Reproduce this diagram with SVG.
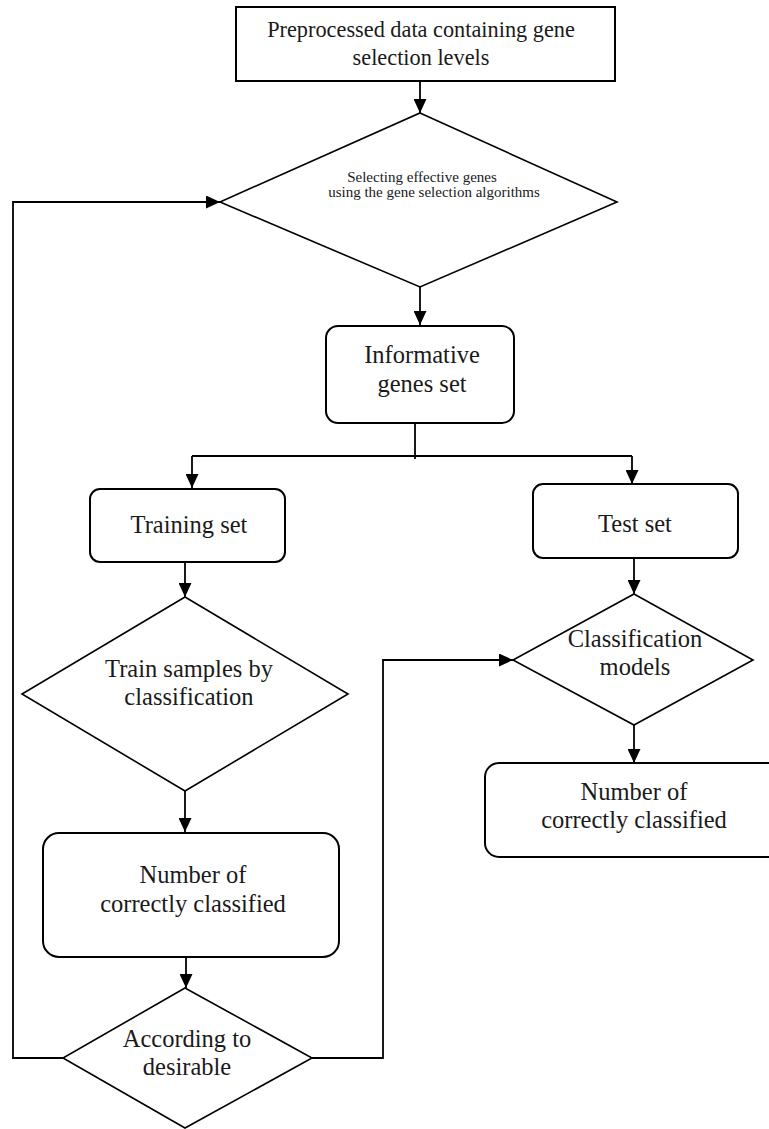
<svg xmlns="http://www.w3.org/2000/svg" width="769" height="1129" viewBox="0 0 769 1129">
<defs>
<marker id="ah" markerUnits="userSpaceOnUse" markerWidth="14" markerHeight="13" refX="14" refY="6.5" orient="auto">
<path d="M0,0 L14,6.5 L0,13 z" fill="#000"/>
</marker>
<style>
.box{fill:#fff;stroke:#000;stroke-width:2}
.dia{fill:#fff;stroke:#000;stroke-width:1.6}
.c{fill:none;stroke:#000;stroke-width:1.8}
.a{marker-end:url(#ah)}
text{font-family:"Liberation Serif","Times New Roman",serif;fill:#1a1a1a;text-anchor:middle}
.t{font-size:24.5px}
.h{font-size:22.3px}
.s{font-size:15px}
</style>
</defs>
<rect width="769" height="1129" fill="#fff"/>
<g id="connectors">
<path class="c a" d="M420,81 V113"/>
<path class="c a" d="M420,287 V325"/>
<path class="c" d="M415,423 V459"/>
<path class="c" d="M192,456 H632"/>
<path class="c a" d="M192,456 V488"/>
<path class="c a" d="M632,456 V484"/>
<path class="c a" d="M185,563 V597"/>
<path class="c a" d="M185,791 V832"/>
<path class="c a" d="M186,957 V988"/>
<path class="c a" d="M63,1058 H13 V202 H220"/>
<path class="c a" d="M312,1058 H383 V660 H513"/>
<path class="c a" d="M634,558 V594"/>
<path class="c a" d="M634,725 V763"/>
</g>
<g id="n1">
<rect class="box" x="236" y="7" width="379" height="74"/>
<text class="h" x="421" y="37">Preprocessed data containing gene</text>
<text class="h" x="421" y="65">selection levels</text>
</g>
<g id="n2">
<polygon class="dia" points="420,113 617,202 420,287 220,202"/>
<text class="s" x="422" y="182">Selecting effective genes</text>
<text class="s" x="434" y="197">using the gene selection algorithms</text>
</g>
<g id="n3">
<rect class="box" x="326" y="326" width="188" height="97" rx="12"/>
<text class="t" x="422" y="363">Informative</text>
<text class="t" x="422" y="392">genes set</text>
</g>
<g id="n4">
<rect class="box" x="90" y="489" width="195" height="73" rx="10"/>
<text class="t" x="189" y="533">Training set</text>
</g>
<g id="n5">
<rect class="box" x="533" y="484" width="205" height="74" rx="10"/>
<text class="t" x="635" y="532">Test set</text>
</g>
<g id="n6">
<polygon class="dia" points="185,597 348,694 185,791 22,694"/>
<text class="t" x="189" y="677">Train samples by</text>
<text class="t" x="189" y="705">classification</text>
</g>
<g id="n7">
<polygon class="dia" points="634,594 753,660 634,725 513,660"/>
<text class="t" x="635" y="647">Classification</text>
<text class="t" x="635" y="675">models</text>
</g>
<g id="n8">
<rect class="box" x="43" y="833" width="296" height="124" rx="16"/>
<text class="t" x="193" y="883">Number of</text>
<text class="t" x="193" y="912">correctly classified</text>
</g>
<g id="n9">
<rect class="box" x="485" y="763" width="300" height="94" rx="14"/>
<text class="t" x="634" y="800">Number of</text>
<text class="t" x="634" y="828">correctly classified</text>
</g>
<g id="n10">
<polygon class="dia" points="185,988 312,1058 185,1128 63,1058"/>
<text class="t" x="187" y="1047">According to</text>
<text class="t" x="187" y="1075">desirable</text>
</g>
</svg>
